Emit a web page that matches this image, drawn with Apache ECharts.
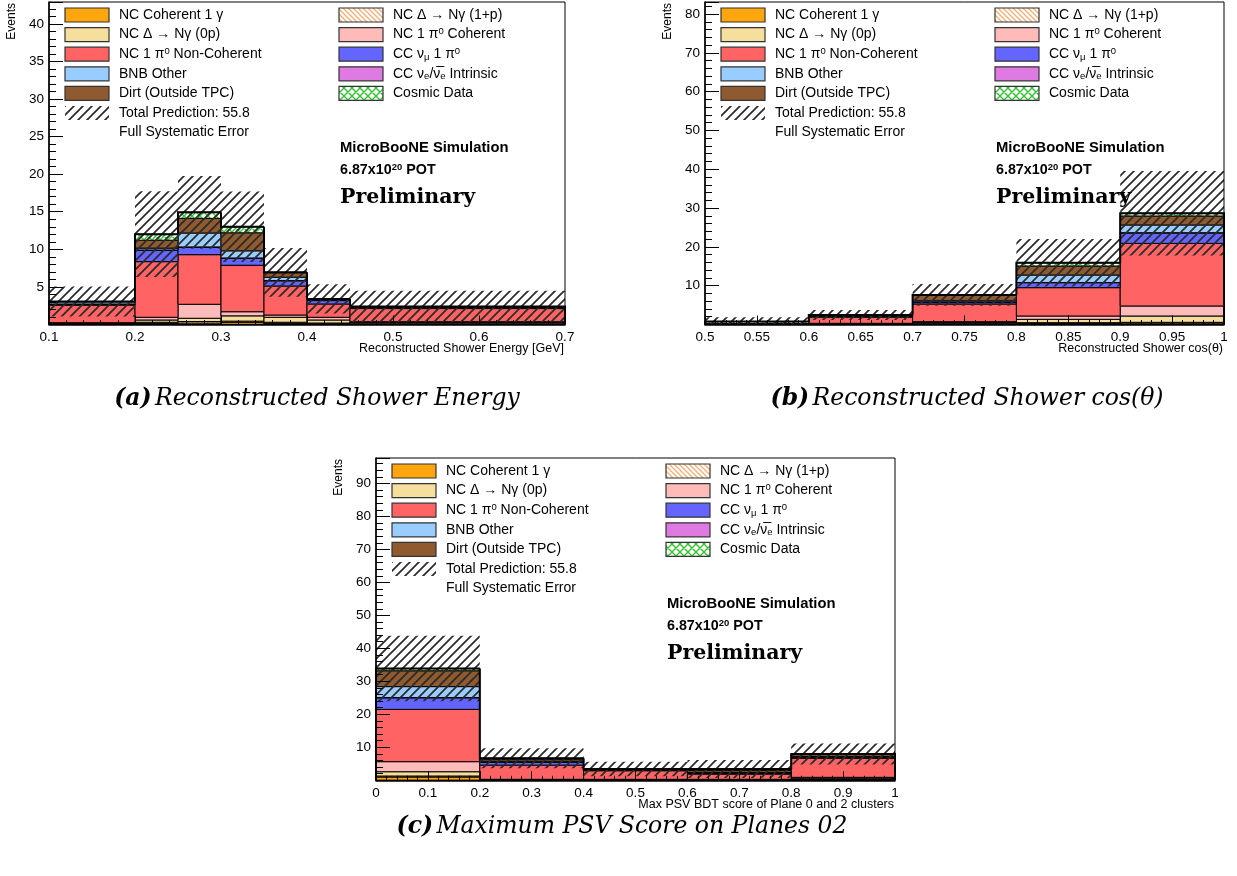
<!DOCTYPE html>
<html><head><meta charset="utf-8">
<script src="https://cdn.jsdelivr.net/npm/echarts@6/dist/echarts.min.js"></script>
<style>html,body{margin:0;padding:0;background:#fff}#c{width:1237px;height:876px}</style>
</head><body><div id="c"></div>
<script>
// ---------------- DATA ----------------
// Panel (a): Reconstructed Shower Energy [GeV]
const A_EDGES   = [0.1, 0.2, 0.25, 0.3, 0.35, 0.4, 0.45, 0.7];
const A_COH1G   = [0.03, 0.15, 0.20, 0.25, 0.15, 0.10, 0.05];
const A_DELTA1P = [0.03, 0.15, 0.20, 0.20, 0.15, 0.10, 0.05];
const A_DELTA0P = [0.10, 0.30, 0.43, 0.70, 0.66, 0.40, 0.15];
const A_PI0COH  = [0.08, 0.36, 1.86, 0.55, 0.30, 0.36, 0.12];
const A_PI0NC   = [2.34, 7.40, 6.60, 6.18, 3.86, 1.77, 1.75];
const A_CCNUMU  = [0.15, 1.50, 0.98, 0.92, 0.70, 0.45, 0.05];
const A_CCNUE   = [0.00, 0.05, 0.05, 0.05, 0.02, 0.02, 0.02];
const A_BNB     = [0.30, 0.25, 1.85, 0.95, 0.45, 0.10, 0.05];
const A_DIRT    = [0.02, 1.05, 1.95, 2.40, 0.60, 0.10, 0.10];
const A_COSMIC  = [0.00, 0.80, 0.80, 0.80, 0.05, 0.00, 0.05];
const A_SYSERR  = [2.00, 5.70, 4.85, 4.70, 3.25, 1.95, 2.10];

// Panel (b): Reconstructed Shower cos(theta)
const B_EDGES   = [0.5, 0.6, 0.7, 0.8, 0.9, 1.0];
const B_COH1G   = [0.02, 0.05, 0.20, 0.30, 0.35];
const B_DELTA1P = [0.02, 0.05, 0.15, 0.17, 0.21];
const B_DELTA0P = [0.03, 0.10, 0.20, 0.86, 1.63];
const B_PI0COH  = [0.02, 0.10, 0.17, 0.86, 2.58];
const B_PI0NC   = [0.10, 1.60, 4.56, 7.30, 16.13];
const B_CCNUMU  = [0.02, 0.15, 0.50, 1.28, 2.70];
const B_CCNUE   = [0.00, 0.02, 0.03, 0.05, 0.06];
const B_BNB     = [0.02, 0.10, 0.30, 1.93, 1.98];
const B_DIRT    = [0.02, 0.20, 1.40, 2.32, 2.32];
const B_COSMIC  = [0.50, 0.08, 0.10, 0.83, 0.70];
const B_SYSERR  = [1.10, 1.30, 2.80, 6.10, 10.90];

// Panel (c): Max PSV BDT score of Plane 0 and 2 clusters
const C_EDGES   = [0, 0.2, 0.4, 0.6, 0.8, 1.0];
const C_COH1G   = [1.00, 0.05, 0.05, 0.05, 0.20];
const C_DELTA1P = [0.30, 0.05, 0.05, 0.05, 0.20];
const C_DELTA0P = [1.30, 0.10, 0.10, 0.10, 0.30];
const C_PI0COH  = [3.05, 0.10, 0.10, 0.10, 0.20];
const C_PI0NC   = [15.85, 4.30, 2.60, 1.60, 5.77];
const C_CCNUMU  = [3.50, 0.80, 0.20, 0.30, 0.30];
const C_CCNUE   = [0.10, 0.04, 0.02, 0.02, 0.03];
const C_BNB     = [3.30, 0.35, 0.10, 0.20, 0.20];
const C_DIRT    = [4.80, 0.60, 0.15, 0.60, 0.60];
const C_COSMIC  = [0.70, 0.30, 0.05, 0.40, 0.17];
const C_SYSERR  = [9.90, 3.00, 2.20, 2.75, 3.20];

// Axis ranges / ticks
const Y_MAX      = [42.9, 83.1, 97.7];
const Y_INTERVAL = [5, 10, 10];
const X_RANGE    = [[0.1, 0.7], [0.5, 1.0], [0, 1.0]];
const X_INTERVAL = [0.1, 0.05, 0.1];

const X_TITLES = ['Reconstructed Shower Energy [GeV]', 'Reconstructed Shower cos(\u03b8)', 'Max PSV BDT score of Plane 0 and 2 clusters'];
const CAPTIONS = [['(a)', 'Reconstructed Shower Energy'], ['(b)', 'Reconstructed Shower cos(\u03b8)'], ['(c)', 'Maximum PSV Score on Planes 02']];
const TOTAL_LABEL = 'Total Prediction: 55.8';

// ---------------- STYLE / LAYOUT ----------------
const GRIDS = [
  {left: 49, top: 2, width: 516, height: 322.5},
  {left: 705, top: 2, width: 519, height: 322.5},
  {left: 376, top: 458, width: 519, height: 322.3}
];
const SANS = 'Liberation Sans, Arial, Helvetica, sans-serif';

function hatch(color, lw, sp, dirs, bg) {
  const c = document.createElement('canvas');
  c.width = sp; c.height = sp;
  const g = c.getContext('2d');
  if (bg) { g.fillStyle = bg; g.fillRect(0, 0, sp, sp); }
  g.strokeStyle = color; g.lineWidth = lw; g.lineCap = 'square';
  g.beginPath();
  dirs.forEach(d => {
    if (d === '/') {
      for (let k = -1; k <= 1; k++) { g.moveTo(k * sp - 1, sp + 1); g.lineTo(k * sp + sp + 1, -1); }
    } else {
      for (let k = -1; k <= 1; k++) { g.moveTo(k * sp - 1, -1); g.lineTo(k * sp + sp + 1, sp + 1); }
    }
  });
  g.stroke();
  return {image: c, repeat: 'repeat'};
}

const HATCH_TOTAL  = hatch('#2a2a2a', 1.7, 9, ['/']);
const HATCH_D1P    = hatch('#f2ae74', 1.3, 5, ['\\'], '#ffffff');
const HATCH_COSMIC = hatch('#2fc42f', 1.4, 8, ['/', '\\'], '#ffffff');

const FILLS = ['#ffa60f', HATCH_D1P, '#f6de9c', '#ffbaba', '#ff6363', '#6464ff', '#e07ae3', '#99ccff', '#8f5a2f', HATCH_COSMIC];

const PANELS = [
  {edges: A_EDGES, comps: [A_COH1G, A_DELTA1P, A_DELTA0P, A_PI0COH, A_PI0NC, A_CCNUMU, A_CCNUE, A_BNB, A_DIRT, A_COSMIC], err: A_SYSERR},
  {edges: B_EDGES, comps: [B_COH1G, B_DELTA1P, B_DELTA0P, B_PI0COH, B_PI0NC, B_CCNUMU, B_CCNUE, B_BNB, B_DIRT, B_COSMIC], err: B_SYSERR},
  {edges: C_EDGES, comps: [C_COH1G, C_DELTA1P, C_DELTA0P, C_PI0COH, C_PI0NC, C_CCNUMU, C_CCNUE, C_BNB, C_DIRT, C_COSMIC], err: C_SYSERR}
];

function rectRender(fill, stroke, lw) {
  return function (params, api) {
    const a = api.coord([api.value(0), api.value(2)]);
    const b = api.coord([api.value(1), api.value(3)]);
    return {type: 'rect', shape: {x: a[0], y: b[1], width: b[0] - a[0], height: a[1] - b[1]},
      style: {fill: fill, stroke: stroke, lineWidth: lw}};
  };
}
function stepRender(params, api) {
  const x0 = api.value(0), x1 = api.value(1), t = api.value(2), prev = api.value(3), last = api.value(4);
  const pts = [api.coord([x0, prev]), api.coord([x0, t]), api.coord([x1, t])];
  if (last) pts.push(api.coord([x1, 0]));
  return {type: 'polyline', shape: {points: pts}, style: {fill: null, stroke: '#000', lineWidth: 2}};
}

const series = [];
PANELS.forEach((p, gi) => {
  const n = p.edges.length - 1;
  const cum = new Array(n).fill(0);
  p.comps.forEach((vals, ci) => {
    const data = [];
    for (let i = 0; i < n; i++) {
      const y0 = cum[i], y1 = y0 + vals[i];
      data.push([p.edges[i], p.edges[i + 1], y0, y1]);
      cum[i] = y1;
    }
    series.push({type: 'custom', xAxisIndex: gi, yAxisIndex: gi, data, encode: {x: [0, 1], y: [2, 3]},
      renderItem: rectRender(FILLS[ci], '#000', 1), silent: true});
  });
  const errData = cum.map((t, i) => [p.edges[i], p.edges[i + 1], Math.max(0, t - p.err[i]), t + p.err[i]]);
  series.push({type: 'custom', xAxisIndex: gi, yAxisIndex: gi, data: errData, encode: {x: [0, 1], y: [2, 3]},
    renderItem: rectRender(HATCH_TOTAL, null, 0), silent: true});
  const totData = cum.map((t, i) => [p.edges[i], p.edges[i + 1], t, i > 0 ? cum[i - 1] : 0, i === n - 1 ? 1 : 0]);
  series.push({type: 'custom', xAxisIndex: gi, yAxisIndex: gi, data: totData, encode: {x: [0, 1], y: [2, 3]},
    renderItem: stepRender, silent: true});
});

const xAxes = GRIDS.map((g, i) => ({
  type: 'value', gridIndex: i, min: X_RANGE[i][0], max: X_RANGE[i][1], interval: X_INTERVAL[i], z: 5,
  axisLine: {show: true, onZero: false, lineStyle: {color: '#000', width: 1.5}},
  axisTick: {show: true, inside: true, length: 9, lineStyle: {color: '#000', width: 1}},
  minorTick: {show: true, splitNumber: 5, length: 4.5, lineStyle: {color: '#000', width: 1}},
  splitLine: {show: false}, minorSplitLine: {show: false},
  axisLabel: {color: '#000', fontFamily: SANS, fontSize: 13.5, margin: 6, hideOverlap: false}
}));
const yAxes = GRIDS.map((g, i) => ({
  type: 'value', gridIndex: i, min: 0, max: Y_MAX[i], interval: Y_INTERVAL[i], z: 5,
  axisLine: {show: true, onZero: false, lineStyle: {color: '#000', width: 1.5}},
  axisTick: {show: true, inside: true, length: 14, lineStyle: {color: '#000', width: 1}},
  minorTick: {show: true, splitNumber: 5, length: 7, lineStyle: {color: '#000', width: 1}},
  splitLine: {show: false}, minorSplitLine: {show: false},
  axisLabel: {color: '#000', fontFamily: SANS, fontSize: 13.5, margin: 5, showMinLabel: false, showMaxLabel: false,
    formatter: v => { const r = v / Y_INTERVAL[i]; return (v > 0 && Math.abs(r - Math.round(r)) < 1e-6) ? String(Math.round(v)) : ''; }}
}));

// ---------------- GRAPHICS (legend, labels, captions) ----------------
const LEG_RICH = {
  n: {fontFamily: SANS, fontSize: 14, lineHeight: 16, verticalAlign: 'middle', fill: '#000'},
  sup: {fontFamily: SANS, fontSize: 9.5, lineHeight: 9, verticalAlign: 'top', fill: '#000'},
  sub: {fontFamily: SANS, fontSize: 9.5, lineHeight: 9, verticalAlign: 'bottom', fill: '#000'}
};
const LEG_COL1 = [
  [0, '{n|NC Coherent 1 \u03b3}'],
  [2, '{n|NC \u0394 \u2192 N\u03b3 (0p)}'],
  [4, '{n|NC 1 \u03c0}{sup|0}{n| Non-Coherent}'],
  [7, '{n|BNB Other}'],
  [8, '{n|Dirt (Outside TPC)}']
];
const LEG_COL2 = [
  [1, '{n|NC \u0394 \u2192 N\u03b3 (1+p)}'],
  [3, '{n|NC 1 \u03c0}{sup|0}{n| Coherent}'],
  [5, '{n|CC \u03bd}{sub|\u03bc}{n| 1 \u03c0}{sup|0}'],
  [6, '{n|CC \u03bd}{sub|e}{n|/\u03bd\u0305}{sub|e}{n| Intrinsic}'],
  [9, '{n|Cosmic Data}']
];
const ROW_Y = [13, 32.6, 52.2, 71.8, 91.4, 111, 130.6];

const graphics = [];
GRIDS.forEach((g, gi) => {
  const ox = g.left, oy = g.top;
  // frame
  graphics.push({type: 'rect', z: 100, shape: {x: g.left, y: g.top, width: g.width, height: g.height},
    style: {fill: null, stroke: '#000', lineWidth: 1}, silent: true});
  const addEntry = (bx, tx, row, fillIdx, txt) => {
    const cy = oy + ROW_Y[row];
    graphics.push({type: 'rect', z: 101, shape: {x: ox + bx, y: cy - 7, width: 44, height: 14},
      style: {fill: FILLS[fillIdx], stroke: '#333', lineWidth: 1.2}, silent: true});
    graphics.push({type: 'text', z: 101, x: ox + tx, y: cy, style: {text: txt, rich: LEG_RICH, verticalAlign: 'middle', align: 'left'}, silent: true});
  };
  LEG_COL1.forEach((e, r) => addEntry(16, 70, r, e[0], e[1]));
  LEG_COL2.forEach((e, r) => addEntry(290, 344, r, e[0], e[1]));
  // total prediction hatch entry
  graphics.push({type: 'rect', z: 101, shape: {x: ox + 16, y: oy + ROW_Y[5] - 7, width: 44, height: 14},
    style: {fill: HATCH_TOTAL, stroke: null}, silent: true});
  graphics.push({type: 'text', z: 101, x: ox + 70, y: oy + ROW_Y[5], style: {text: '{n|' + TOTAL_LABEL + '}', rich: LEG_RICH, verticalAlign: 'middle'}, silent: true});
  graphics.push({type: 'text', z: 101, x: ox + 70, y: oy + ROW_Y[6], style: {text: '{n|Full Systematic Error}', rich: LEG_RICH, verticalAlign: 'middle'}, silent: true});
  // MicroBooNE text
  graphics.push({type: 'text', z: 101, x: ox + 291, y: oy + 146, style: {text: 'MicroBooNE Simulation', fontFamily: SANS, fontWeight: 'bold', fontSize: 14.8, fill: '#000', verticalAlign: 'middle'}, silent: true});
  graphics.push({type: 'text', z: 101, x: ox + 291, y: oy + 168, style: {text: '{b|6.87x10}{bs|20}{b| POT}', verticalAlign: 'middle',
    rich: {b: {fontFamily: SANS, fontWeight: 'bold', fontSize: 14.3, lineHeight: 16, verticalAlign: 'middle', fill: '#000'},
           bs: {fontFamily: SANS, fontWeight: 'bold', fontSize: 9.5, lineHeight: 9, verticalAlign: 'top', fill: '#000'}}}, silent: true});
  graphics.push({type: 'text', z: 101, x: ox + 291, y: oy + 196, style: {text: 'Preliminary', fontFamily: 'DejaVu Serif, serif', fontWeight: 'bold', fontSize: 20.5, fill: '#000', verticalAlign: 'middle'}, silent: true});
  // axis titles
  graphics.push({type: 'text', z: 101, x: g.left - 37, y: g.top + 1, rotation: Math.PI / 2,
    style: {text: 'Events', fontFamily: SANS, fontSize: 12, fill: '#000', align: 'right', verticalAlign: 'middle'}, silent: true});
  graphics.push({type: 'text', z: 101, x: g.left + g.width - 1, y: g.top + g.height + 24,
    style: {text: X_TITLES[gi], fontFamily: SANS, fontSize: 12.5, fill: '#000', align: 'right', verticalAlign: 'middle'}, silent: true});
});
// captions
const CAP_POS = [[317, 399], [967, 399], [622, 827]];
CAPTIONS.forEach((c, i) => {
  graphics.push({type: 'text', z: 101, x: CAP_POS[i][0], y: CAP_POS[i][1],
    style: {text: '{b|' + c[0] + '} {i|' + c[1] + '}', align: 'center', verticalAlign: 'middle',
      rich: {b: {fontFamily: 'DejaVu Serif, serif', fontStyle: 'italic', fontWeight: 'bold', fontSize: 23.5, fill: '#000'},
             i: {fontFamily: 'DejaVu Serif, serif', fontStyle: 'italic', fontSize: 23.5, fill: '#000'}}}, silent: true});
});

const chart = echarts.init(document.getElementById('c'), null, {renderer: 'canvas'});
chart.setOption({
  animation: false,
  backgroundColor: '#fff',
  grid: GRIDS.map(g => ({left: g.left, top: g.top, width: g.width, height: g.height, show: false, containLabel: false})),
  xAxis: xAxes,
  yAxis: yAxes,
  series,
  graphic: {elements: graphics}
});
</script></body></html>
